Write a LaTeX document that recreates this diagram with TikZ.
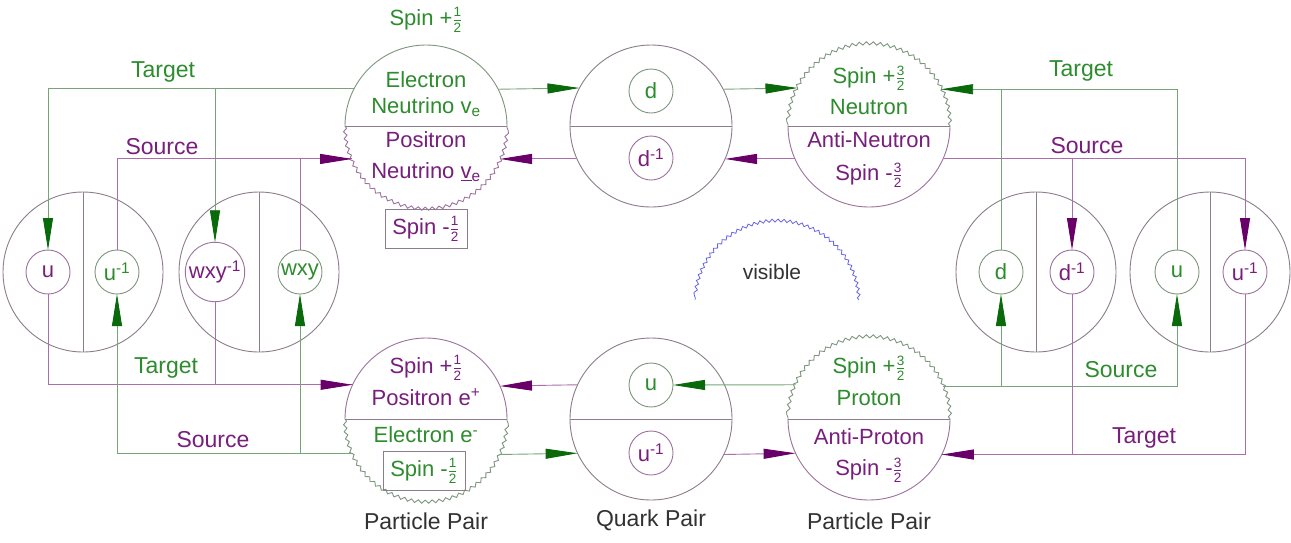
\documentclass[tikz,border=0pt]{standalone}
\usepackage{fontspec}
\setmainfont{Liberation Sans}
\usetikzlibrary{arrows.meta,decorations.pathmorphing}
\definecolor{gtext}{RGB}{45,140,45}
\definecolor{ptext}{RGB}{120,30,125}
\definecolor{garr}{RGB}{10,105,10}
\definecolor{parr}{RGB}{105,0,105}
\definecolor{gline}{RGB}{120,165,120}
\definecolor{pline}{RGB}{170,110,170}
\definecolor{ringg}{RGB}{125,150,125}
\definecolor{ringp}{RGB}{155,115,155}
\definecolor{ringn}{RGB}{140,125,140}
\definecolor{labc}{RGB}{50,50,50}
\definecolor{wavec}{RGB}{100,100,230}
\newcommand{\fr}[2]{${\hbox{\fontsize{13.5}{13.5}\selectfont #1}\above0.6pt\hbox{\fontsize{13.5}{13.5}\selectfont #2}}$}
\tikzset{
  every node/.style={font=\fontsize{22}{26}\selectfont},
  bigc/.style={circle,minimum size=162pt,inner sep=0pt,outer sep=0pt},
  sidec/.style={circle,minimum size=160pt,inner sep=0pt,outer sep=0pt,draw=ringn,line width=0.9pt},
  smallg/.style={circle,draw=ringg,text=gtext,minimum size=44pt,inner sep=1pt,outer sep=0pt,line width=0.9pt},
  smallp/.style={circle,draw=ringp,text=ptext,minimum size=44pt,inner sep=1pt,outer sep=0pt,line width=0.9pt},
  gl/.style={draw=gline,line width=0.9pt},
  pl/.style={draw=pline,line width=0.9pt},
  ga/.style={-{Triangle[length=32pt,width=10pt,color=garr]}},
  pa/.style={-{Triangle[length=32pt,width=10pt,color=parr]}},
  wavy/.style={decorate,decoration={snake,amplitude=1.6pt,segment length=7pt}},
  ring/.style={line width=0.9pt},
  gtx/.style={text=gtext},
  ptx/.style={text=ptext},
  lab/.style={text=labc,font=\fontsize{23}{27}\selectfont},
  spinbox/.style={draw=ringn,line width=0.9pt,minimum width=82pt,minimum height=39pt,inner sep=2pt},
}
\begin{document}
\begin{tikzpicture}[x=1pt,y=1pt]
\fill[white] (0,0) rectangle (1291,-542);
\useasboundingbox (0,0) rectangle (1291,-542);

% big circles
\node[bigc] (PNt) at (426,-126) {};
\node[bigc] (QT) at (651,-126) {};
\node[bigc] (NT) at (869,-126) {};
\node[bigc] (PNb) at (426,-419) {};
\node[bigc] (QB) at (651,-419) {};
\node[bigc] (PR) at (869,-419) {};

% PNt: upper smooth, lower wavy
\draw[ringg,ring] (PNt.0) arc[start angle=0,end angle=180,radius=81pt];
\draw[ringp,ring,wavy] (PNt.180) arc[start angle=180,end angle=360,radius=81pt];
\draw[ringn,ring] (PNt.180) -- (PNt.0);
% QT
\draw[ringn,ring] (QT) circle[radius=81pt];
\draw[ringn,ring] (QT.180) -- (QT.0);
% NT: upper wavy, lower smooth
\draw[ringg,ring,wavy] (NT.0) arc[start angle=0,end angle=180,radius=81pt];
\draw[ringp,ring] (NT.180) arc[start angle=180,end angle=360,radius=81pt];
\draw[ringn,ring] (NT.180) -- (NT.0);
% PNb: upper smooth, lower wavy
\draw[ringp,ring] (PNb.0) arc[start angle=0,end angle=180,radius=81pt];
\draw[ringg,ring,wavy] (PNb.180) arc[start angle=180,end angle=360,radius=81pt];
\draw[ringn,ring] (PNb.180) -- (PNb.0);
% QB
\draw[ringn,ring] (QB) circle[radius=81pt];
\draw[ringn,ring] (QB.180) -- (QB.0);
% PR: upper wavy, lower smooth
\draw[ringg,ring,wavy] (PR.0) arc[start angle=0,end angle=180,radius=81pt];
\draw[ringp,ring] (PR.180) arc[start angle=180,end angle=360,radius=81pt];
\draw[ringn,ring] (PR.180) -- (PR.0);

% side circles
\node[sidec] (L1) at (83,-272) {};
\node[sidec] (L2) at (259,-272) {};
\node[sidec] (R1) at (1036,-272) {};
\node[sidec] (R2) at (1210,-272) {};
\draw[ringn,ring] (L1.90) -- (L1.270);
\draw[ringn,ring] (L2.90) -- (L2.270);
\draw[ringn,ring] (R1.90) -- (R1.270);
\draw[ringn,ring] (R2.90) -- (R2.270);

% small circles
\node[smallp] (ua) at (48,-272) {u};
\node[smallg] (uai) at (117,-272) {u\textsuperscript{-1}};
\node[smallp] (wi) at (215,-272) {wxy\textsuperscript{-1}};
\node[smallg] (w) at (300,-272) {wxy};
\node[smallg] (rd) at (1001,-272) {d};
\node[smallp] (rdi) at (1072,-272) {d\textsuperscript{-1}};
\node[smallg] (ru) at (1177,-272) {u};
\node[smallp] (rui) at (1245,-272) {u\textsuperscript{-1}};
\node[smallg] (qd) at (651,-91) {d};
\node[smallp] (qdi) at (651,-158) {d\textsuperscript{-1}};
\node[smallg] (qu) at (651,-385) {u};
\node[smallp] (qui) at (651,-453) {u\textsuperscript{-1}};

% texts in big circles
\node[gtx] (t1) at (426,-80) {Electron};
\node[gtx] (t2) at (426,-107) {Neutrino v\textsubscript{e}};
\node[ptx] (t3) at (426,-140) {Positron};
\node[ptx] (t4) at (426,-172) {Neutrino \underline{v}\textsubscript{e}};
\node[gtx] (t5) at (869,-78) {Spin +\fr{3}{2}};
\node[gtx] (t6) at (869,-107) {Neutron};
\node[ptx] (t7) at (869,-140) {Anti-Neutron};
\node[ptx] (t8) at (869,-175) {Spin -\fr{3}{2}};
\node[ptx] (t9) at (426,-368) {Spin +\fr{1}{2}};
\node[ptx] (t10) at (426,-397) {Positron e\textsuperscript{+}};
\node[gtx] (t11) at (426,-435) {Electron e\textsuperscript{-}};
\node[gtx,spinbox] (t12) at (424,-471) {Spin -\fr{1}{2}};
\node[gtx] (t13) at (869,-368) {Spin +\fr{3}{2}};
\node[gtx] (t14) at (869,-398) {Proton};
\node[ptx] (t15) at (869,-437) {Anti-Proton};
\node[ptx] (t16) at (869,-470) {Spin -\fr{3}{2}};

% extra spin labels
\node[gtx] (s1) at (426,-20) {Spin +\fr{1}{2}};
\node[ptx,spinbox] (s2) at (426,-229) {Spin -\fr{1}{2}};

% connector labels
\node[gtx,font=\fontsize{23}{27}\selectfont] (lb1) at (163,-72) {Target};
\node[ptx,font=\fontsize{23}{27}\selectfont] (lb2) at (162,-147) {Source};
\node[gtx,font=\fontsize{23}{27}\selectfont] (lb3) at (166,-368) {Target};
\node[ptx,font=\fontsize{23}{27}\selectfont] (lb4) at (213,-440) {Source};
\node[gtx,font=\fontsize{23}{27}\selectfont] (lb5) at (1081,-71) {Target};
\node[ptx,font=\fontsize{23}{27}\selectfont] (lb6) at (1087,-146) {Source};
\node[gtx,font=\fontsize{23}{27}\selectfont] (lb7) at (1121,-370) {Source};
\node[ptx,font=\fontsize{23}{27}\selectfont] (lb8) at (1144,-438) {Target};

% bottom labels
\node[lab] (bl1) at (426,-521) {Particle Pair};
\node[lab] (bl2) at (651,-520) {Quark Pair};
\node[lab] (bl3) at (869,-521) {Particle Pair};

% visible arc
\coordinate (arcc) at (777,-304);
\draw[wavec,line width=0.8pt,decorate,decoration={snake,amplitude=1.5pt,segment length=6pt}] (arcc) ++(3:82pt) arc[start angle=3,end angle=177,radius=82pt];
\node[lab,font=\fontsize{21}{25}\selectfont] (vis) at (772,-272) {visible};

% ---- connectors ----
% top left target (green)
\draw[gl,ga] (PNt.152.8) -| (ua.north);
\draw[gl,ga] (PNt.152.8) -| (wi.north);
% top left source (purple)
\draw[pl] (w.north) |- (PNt.204);
\draw[pl,pa] (uai.north) |- (PNt.204);
% top middle
\draw[gl,ga] (PNt.27.2) -- (QT.152.8);
\draw[gl,ga] (QT.27.2) -- (NT.152.8);
\draw[pl,pa] (QT.204) -- (PNt.336);
\draw[pl,pa] (NT.204) -- (QT.336);
% top right target (green)
\draw[gl] (rd.north) |- (NT.27.2);
\draw[gl,ga] (ru.north) |- (NT.27.2);
% top right source (purple)
\draw[pl,pa] (NT.336) -| (rdi.north);
\draw[pl,pa] (NT.336) -| (rui.north);
% bottom left (purple line, Target label)
\draw[pl] (wi.south) |- (PNb.155.2);
\draw[pl,pa] (ua.south) |- (PNb.155.2);
% bottom left (green line, Source label)
\draw[gl,ga] (PNb.205.6) -| (uai.south);
\draw[gl,ga] (PNb.205.6) -| (w.south);
% bottom middle
\draw[pl,pa] (QB.155.2) -- (PNb.24.8);
\draw[gl,ga] (PR.155.2) -- (qu.east);
\draw[gl,ga] (PNb.334.4) -- (QB.205.6);
\draw[pl,pa] (QB.334.4) -- (PR.205.6);
% bottom right source (green)
\draw[gl,ga] (PR.24.8) -| (rd.south);
\draw[gl,ga] (PR.24.8) -| (ru.south);
% bottom right target (purple)
\draw[pl] (rui.south) |- (PR.334.4);
\draw[pl,pa] (rdi.south) |- (PR.334.4);
\end{tikzpicture}
\end{document}
